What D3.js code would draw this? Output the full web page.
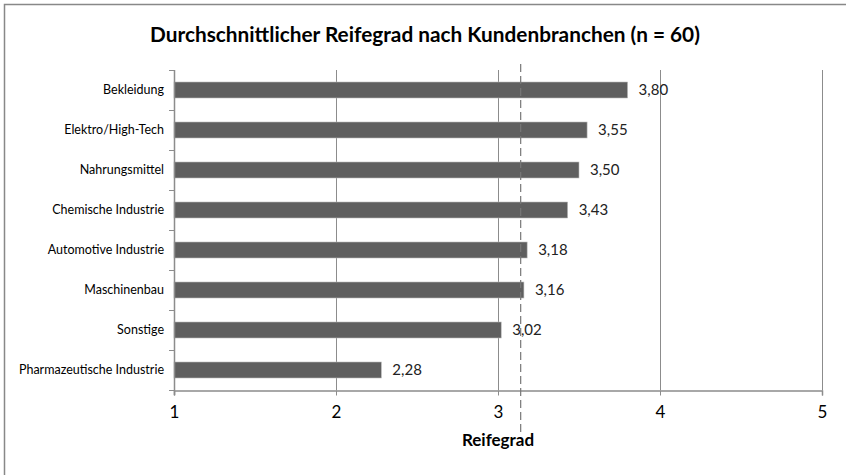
<!DOCTYPE html>
<html>
<head>
<meta charset="utf-8">
<script src="https://cdn.jsdelivr.net/npm/d3@7"></script>
<style>
  body { margin: 0; background: #fff; }
  svg { display: block; font-family: Lato, "Open Sans", sans-serif; }
</style>
</head>
<body>
<svg id="chart" width="846" height="475"></svg>
<script>
// data, top to bottom
const branchen = ["Bekleidung", "Elektro/High-Tech", "Nahrungsmittel", "Chemische Industrie",
                  "Automotive Industrie", "Maschinenbau", "Sonstige", "Pharmazeutische Industrie"]
const reifegrad = [3.80, 3.55, 3.50, 3.43, 3.18, 3.16, 3.02, 2.28]
const xTicks = [1, 2, 3, 4, 5]
const mittelwert = 3.14

const data = branchen.map((b, i) => ({ name: b, value: reifegrad[i] }))

const svg = d3.select("#chart")

const plotLeft = 174, plotRight = 822, plotTop = 70, plotBottom = 390

// outer frame
svg.append("rect")
    .attr("x", 4.5).attr("y", 4.5)
    .attr("width", 860).attr("height", 490)
    .attr("fill", "none")
    .attr("stroke", "#888")
    .attr("stroke-width", 1.5)

svg.append("text")
    .attr("x", 425).attr("y", 42)
    .attr("text-anchor", "middle")
    .style("font-size", "20.8px")
    .style("font-weight", "bold")
    .attr("fill", "#000")
    .text("Durchschnittlicher Reifegrad nach Kundenbranchen (n = 60)")

const xScale = d3.scaleLinear()
    .domain([1, 5])
    .range([plotLeft, plotRight])

const yScale = d3.scaleBand()
    .domain(branchen)
    .range([plotTop, plotBottom])
    .paddingInner(0.6)
    .paddingOuter(0.3)

// vertical gridlines
svg.append("g")
    .selectAll("line")
    .data(xTicks.slice(1))
    .join("line")
    .attr("x1", d => Math.round(xScale(d)) + 0.5)
    .attr("x2", d => Math.round(xScale(d)) + 0.5)
    .attr("y1", plotTop)
    .attr("y2", plotBottom)
    .attr("stroke", "#8c8c8c")
    .attr("stroke-width", 1)

// bars
svg.append("g")
    .selectAll("rect")
    .data(data)
    .join("rect")
    .attr("x", xScale(1))
    .attr("y", d => yScale(d.name))
    .attr("width", d => xScale(d.value) - xScale(1))
    .attr("height", yScale.bandwidth())
    .attr("fill", "#5f5f5f")
    .attr("stroke", "#bdbdbd")
    .attr("stroke-width", 0.6)

// value labels
svg.append("g")
    .selectAll("text")
    .data(data)
    .join("text")
    .attr("x", d => xScale(d.value) + 11)
    .attr("y", d => yScale(d.name) + yScale.bandwidth() / 2)
    .attr("dy", "0.35em")
    .style("font-size", "15px")
    .attr("fill", "#222")
    .text(d => d3.format(".2f")(d.value).replace(".", ","))

// x axis
const xAxis = svg.append("g")
    .attr("transform", `translate(0, ${plotBottom + 0.5})`)
    .call(d3.axisBottom(xScale).tickValues(xTicks).tickSize(5).tickPadding(10).tickFormat(d3.format("d")))
xAxis.select(".domain").attr("stroke", "#8c8c8c").attr("stroke-width", 1.5)
xAxis.selectAll(".tick line").attr("stroke", "#8c8c8c")
xAxis.selectAll(".tick text")
    .style("font-size", "17px")
    .style("font-family", "Lato, sans-serif")
    .attr("fill", "#000")

// y axis with ticks between categories
const yAxisG = svg.append("g")
yAxisG.append("line")
    .attr("x1", plotLeft + 0.5).attr("x2", plotLeft + 0.5)
    .attr("y1", plotTop).attr("y2", plotBottom + 5)
    .attr("stroke", "#8c8c8c").attr("stroke-width", 1.5)
const step = (plotBottom - plotTop) / branchen.length
yAxisG.selectAll("line.tk")
    .data(d3.range(branchen.length + 1))
    .join("line")
    .attr("class", "tk")
    .attr("x1", plotLeft - 5).attr("x2", plotLeft)
    .attr("y1", i => Math.round(plotTop + i * step) + 0.5)
    .attr("y2", i => Math.round(plotTop + i * step) + 0.5)
    .attr("stroke", "#8c8c8c")
yAxisG.selectAll("text")
    .data(data)
    .join("text")
    .attr("x", plotLeft - 10)
    .attr("y", d => yScale(d.name) + yScale.bandwidth() / 2)
    .attr("dy", "0.35em")
    .attr("text-anchor", "end")
    .style("font-size", "12.5px")
    .attr("fill", "#000")
    .text(d => d.name)

// average dashed line
svg.append("line")
    .attr("x1", xScale(mittelwert)).attr("x2", xScale(mittelwert))
    .attr("y1", 64).attr("y2", 436)
    .attr("stroke", "#777")
    .attr("stroke-width", 1.2)
    .attr("stroke-dasharray", "8,4")

// axis title
svg.append("text")
    .attr("x", (plotLeft + plotRight) / 2).attr("y", 446)
    .attr("text-anchor", "middle")
    .style("font-size", "17px")
    .style("font-weight", "bold")
    .attr("fill", "#000")
    .text("Reifegrad")
</script>
</body>
</html>
